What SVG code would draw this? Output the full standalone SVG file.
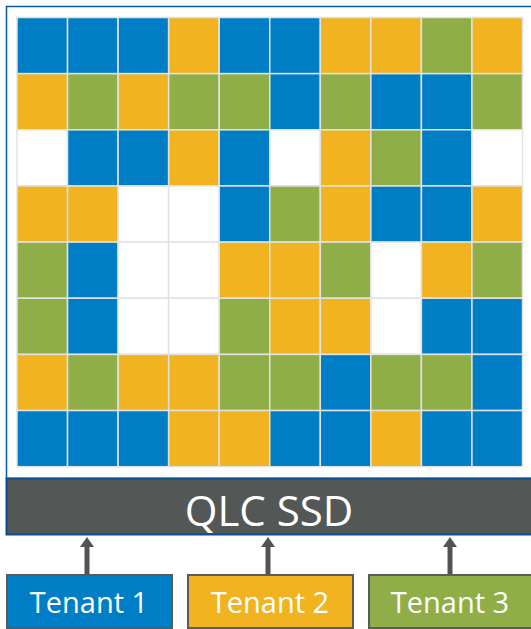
<svg xmlns="http://www.w3.org/2000/svg" width="531" height="629" viewBox="0 0 531 629">
<style>
.c{stroke:#E2E2E2;stroke-width:1.5}
.b{fill:#007EC5}
.o{fill:#F1B31F}
.g{fill:#8FAE47}
.w{fill:#FFFFFF}
.t{font-family:"Open Sans","Noto Sans",sans-serif;fill:#FFFFFF;text-anchor:middle}
.tb{stroke:#595C5C;stroke-width:2}
.ar{stroke:#505554;stroke-width:5}
</style>
<defs>
<marker id="ah" markerWidth="10" markerHeight="14" refX="0" refY="7" orient="auto" markerUnits="userSpaceOnUse" viewBox="0 0 10 14">
<path d="M0,0 L10,7 L0,14 Z" fill="#505554"/>
</marker>
</defs>
<g id="ssd">
<rect x="6.5" y="6.5" width="530" height="472" fill="#FFFFFF" stroke="#0B5AA6" stroke-width="1.5"/>
<g id="grid">
<rect class="c b" x="17" y="17.5" width="50.55" height="56.15"/>
<rect class="c b" x="67.55" y="17.5" width="50.55" height="56.15"/>
<rect class="c b" x="118.1" y="17.5" width="50.55" height="56.15"/>
<rect class="c o" x="168.65" y="17.5" width="50.55" height="56.15"/>
<rect class="c b" x="219.2" y="17.5" width="50.55" height="56.15"/>
<rect class="c b" x="269.75" y="17.5" width="50.55" height="56.15"/>
<rect class="c o" x="320.3" y="17.5" width="50.55" height="56.15"/>
<rect class="c o" x="370.85" y="17.5" width="50.55" height="56.15"/>
<rect class="c g" x="421.4" y="17.5" width="50.55" height="56.15"/>
<rect class="c o" x="471.95" y="17.5" width="50.55" height="56.15"/>

<rect class="c o" x="17" y="73.65" width="50.55" height="56.15"/>
<rect class="c g" x="67.55" y="73.65" width="50.55" height="56.15"/>
<rect class="c o" x="118.1" y="73.65" width="50.55" height="56.15"/>
<rect class="c g" x="168.65" y="73.65" width="50.55" height="56.15"/>
<rect class="c g" x="219.2" y="73.65" width="50.55" height="56.15"/>
<rect class="c b" x="269.75" y="73.65" width="50.55" height="56.15"/>
<rect class="c g" x="320.3" y="73.65" width="50.55" height="56.15"/>
<rect class="c b" x="370.85" y="73.65" width="50.55" height="56.15"/>
<rect class="c b" x="421.4" y="73.65" width="50.55" height="56.15"/>
<rect class="c g" x="471.95" y="73.65" width="50.55" height="56.15"/>

<rect class="c w" x="17" y="129.8" width="50.55" height="56.15"/>
<rect class="c b" x="67.55" y="129.8" width="50.55" height="56.15"/>
<rect class="c b" x="118.1" y="129.8" width="50.55" height="56.15"/>
<rect class="c o" x="168.65" y="129.8" width="50.55" height="56.15"/>
<rect class="c b" x="219.2" y="129.8" width="50.55" height="56.15"/>
<rect class="c w" x="269.75" y="129.8" width="50.55" height="56.15"/>
<rect class="c o" x="320.3" y="129.8" width="50.55" height="56.15"/>
<rect class="c g" x="370.85" y="129.8" width="50.55" height="56.15"/>
<rect class="c b" x="421.4" y="129.8" width="50.55" height="56.15"/>
<rect class="c w" x="471.95" y="129.8" width="50.55" height="56.15"/>

<rect class="c o" x="17" y="185.95" width="50.55" height="56.15"/>
<rect class="c o" x="67.55" y="185.95" width="50.55" height="56.15"/>
<rect class="c w" x="118.1" y="185.95" width="50.55" height="56.15"/>
<rect class="c w" x="168.65" y="185.95" width="50.55" height="56.15"/>
<rect class="c b" x="219.2" y="185.95" width="50.55" height="56.15"/>
<rect class="c g" x="269.75" y="185.95" width="50.55" height="56.15"/>
<rect class="c o" x="320.3" y="185.95" width="50.55" height="56.15"/>
<rect class="c b" x="370.85" y="185.95" width="50.55" height="56.15"/>
<rect class="c b" x="421.4" y="185.95" width="50.55" height="56.15"/>
<rect class="c o" x="471.95" y="185.95" width="50.55" height="56.15"/>

<rect class="c g" x="17" y="242.1" width="50.55" height="56.15"/>
<rect class="c b" x="67.55" y="242.1" width="50.55" height="56.15"/>
<rect class="c w" x="118.1" y="242.1" width="50.55" height="56.15"/>
<rect class="c w" x="168.65" y="242.1" width="50.55" height="56.15"/>
<rect class="c o" x="219.2" y="242.1" width="50.55" height="56.15"/>
<rect class="c o" x="269.75" y="242.1" width="50.55" height="56.15"/>
<rect class="c g" x="320.3" y="242.1" width="50.55" height="56.15"/>
<rect class="c w" x="370.85" y="242.1" width="50.55" height="56.15"/>
<rect class="c o" x="421.4" y="242.1" width="50.55" height="56.15"/>
<rect class="c g" x="471.95" y="242.1" width="50.55" height="56.15"/>

<rect class="c g" x="17" y="298.25" width="50.55" height="56.15"/>
<rect class="c b" x="67.55" y="298.25" width="50.55" height="56.15"/>
<rect class="c w" x="118.1" y="298.25" width="50.55" height="56.15"/>
<rect class="c w" x="168.65" y="298.25" width="50.55" height="56.15"/>
<rect class="c g" x="219.2" y="298.25" width="50.55" height="56.15"/>
<rect class="c o" x="269.75" y="298.25" width="50.55" height="56.15"/>
<rect class="c o" x="320.3" y="298.25" width="50.55" height="56.15"/>
<rect class="c w" x="370.85" y="298.25" width="50.55" height="56.15"/>
<rect class="c b" x="421.4" y="298.25" width="50.55" height="56.15"/>
<rect class="c b" x="471.95" y="298.25" width="50.55" height="56.15"/>

<rect class="c o" x="17" y="354.4" width="50.55" height="56.15"/>
<rect class="c g" x="67.55" y="354.4" width="50.55" height="56.15"/>
<rect class="c o" x="118.1" y="354.4" width="50.55" height="56.15"/>
<rect class="c o" x="168.65" y="354.4" width="50.55" height="56.15"/>
<rect class="c g" x="219.2" y="354.4" width="50.55" height="56.15"/>
<rect class="c g" x="269.75" y="354.4" width="50.55" height="56.15"/>
<rect class="c b" x="320.3" y="354.4" width="50.55" height="56.15"/>
<rect class="c g" x="370.85" y="354.4" width="50.55" height="56.15"/>
<rect class="c g" x="421.4" y="354.4" width="50.55" height="56.15"/>
<rect class="c b" x="471.95" y="354.4" width="50.55" height="56.15"/>

<rect class="c b" x="17" y="410.55" width="50.55" height="56.15"/>
<rect class="c b" x="67.55" y="410.55" width="50.55" height="56.15"/>
<rect class="c b" x="118.1" y="410.55" width="50.55" height="56.15"/>
<rect class="c o" x="168.65" y="410.55" width="50.55" height="56.15"/>
<rect class="c o" x="219.2" y="410.55" width="50.55" height="56.15"/>
<rect class="c b" x="269.75" y="410.55" width="50.55" height="56.15"/>
<rect class="c b" x="320.3" y="410.55" width="50.55" height="56.15"/>
<rect class="c o" x="370.85" y="410.55" width="50.55" height="56.15"/>
<rect class="c b" x="421.4" y="410.55" width="50.55" height="56.15"/>
<rect class="c b" x="471.95" y="410.55" width="50.55" height="56.15"/>
</g>
<g id="qlc-ssd">
<rect x="6.5" y="478.5" width="530" height="56" fill="#535756" stroke="#0B4C8C" stroke-width="2"/>
<text class="t" x="269" y="526" font-size="42">QLC SSD</text>
</g>
</g>
<g id="connectors">
<line class="ar" x1="87" y1="575" x2="87" y2="547" marker-end="url(#ah)"/>
<line class="ar" x1="268" y1="575" x2="268" y2="547" marker-end="url(#ah)"/>
<line class="ar" x1="450" y1="575" x2="450" y2="547" marker-end="url(#ah)"/>
</g>
<g id="tenant1">
<rect class="tb b" x="7" y="575" width="165" height="53"/>
<text class="t" x="89" y="613" font-size="29">Tenant 1</text>
</g>
<g id="tenant2">
<rect class="tb o" x="188" y="575" width="165" height="53"/>
<text class="t" x="270" y="613" font-size="29">Tenant 2</text>
</g>
<g id="tenant3">
<rect class="tb g" x="369" y="575" width="165" height="53"/>
<text class="t" x="450" y="613" font-size="29">Tenant 3</text>
</g>
</svg>
